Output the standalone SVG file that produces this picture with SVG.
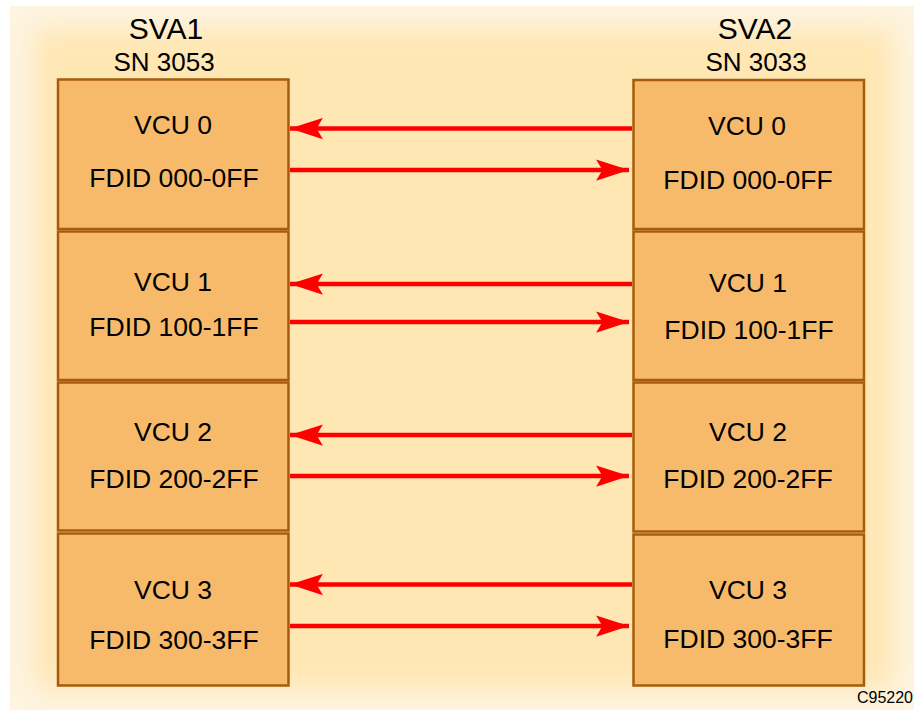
<svg xmlns="http://www.w3.org/2000/svg" width="914" height="710" viewBox="0 0 914 710">
<defs>
<style>
.box{fill:#F7BA6B;stroke:#A65C0C;stroke-width:2.5}
.t{font-family:"Liberation Sans",Arial,sans-serif;font-size:26.5px;fill:#000;text-anchor:middle}
.h{font-family:"Liberation Sans",Arial,sans-serif;font-size:30px;fill:#000;text-anchor:middle}
.s{font-family:"Liberation Sans",Arial,sans-serif;font-size:26px;fill:#000;text-anchor:middle}
.c{stroke:#FF0000;stroke-width:4.5;fill:none}
</style>
<filter id="blur" x="-10%" y="-10%" width="120%" height="120%"><feGaussianBlur stdDeviation="14"/></filter>
<clipPath id="bgclip"><rect x="10" y="6" width="904" height="704"/></clipPath>
<marker id="ah" markerUnits="userSpaceOnUse" markerWidth="34" markerHeight="22" viewBox="0 0 32 20" refX="31" refY="10" orient="auto">
<path d="M31,10 L0,0 L6,10 L0,20 Z" fill="#FF0000"/>
</marker>
</defs>
<rect width="914" height="710" fill="#FFFFFF"/>
<g clip-path="url(#bgclip)">
<rect x="10" y="6" width="904" height="704" fill="#FDF4E2"/>
<rect x="34" y="28" width="860" height="662" fill="#FFE7B3" filter="url(#blur)"/>
</g>
<g id="titles">
<text class="h" x="166" y="39">SVA1</text>
<text class="s" x="164" y="71">SN 3053</text>
<text class="h" x="755" y="39">SVA2</text>
<text class="s" x="756" y="71">SN 3033</text>
</g>
<g id="sva1-vcu0"><rect class="box" x="58" y="79.5" width="230.5" height="149.5"/><text class="t" x="173" y="134">VCU 0</text><text class="t" x="174" y="187">FDID 000-0FF</text></g>
<g id="sva1-vcu1"><rect class="box" x="58" y="231.5" width="230.5" height="148.5"/><text class="t" x="173" y="291">VCU 1</text><text class="t" x="174" y="336">FDID 100-1FF</text></g>
<g id="sva1-vcu2"><rect class="box" x="58" y="382.5" width="230.5" height="148"/><text class="t" x="173" y="441">VCU 2</text><text class="t" x="174" y="488">FDID 200-2FF</text></g>
<g id="sva1-vcu3"><rect class="box" x="58" y="533.5" width="230.5" height="152"/><text class="t" x="173" y="599">VCU 3</text><text class="t" x="174" y="649">FDID 300-3FF</text></g>
<g id="sva2-vcu0"><rect class="box" x="633.5" y="80" width="230.5" height="149"/><text class="t" x="747" y="135">VCU 0</text><text class="t" x="748" y="189">FDID 000-0FF</text></g>
<g id="sva2-vcu1"><rect class="box" x="633.5" y="231.5" width="230.5" height="148.5"/><text class="t" x="748" y="292">VCU 1</text><text class="t" x="749" y="339">FDID 100-1FF</text></g>
<g id="sva2-vcu2"><rect class="box" x="633.5" y="382.5" width="230.5" height="149"/><text class="t" x="748" y="441">VCU 2</text><text class="t" x="748" y="488">FDID 200-2FF</text></g>
<g id="sva2-vcu3"><rect class="box" x="633.5" y="534.5" width="230.5" height="151"/><text class="t" x="748" y="599">VCU 3</text><text class="t" x="748" y="648">FDID 300-3FF</text></g>
<g id="connectors">
<line class="c" x1="632" y1="128.5" x2="290" y2="128.5" marker-end="url(#ah)"/>
<line class="c" x1="290" y1="170" x2="629" y2="170" marker-end="url(#ah)"/>
<line class="c" x1="632" y1="284" x2="290" y2="284" marker-end="url(#ah)"/>
<line class="c" x1="290" y1="322" x2="629" y2="322" marker-end="url(#ah)"/>
<line class="c" x1="632" y1="435" x2="290" y2="435" marker-end="url(#ah)"/>
<line class="c" x1="290" y1="476" x2="629" y2="476" marker-end="url(#ah)"/>
<line class="c" x1="632" y1="584.5" x2="290" y2="584.5" marker-end="url(#ah)"/>
<line class="c" x1="290" y1="626" x2="629" y2="626" marker-end="url(#ah)"/>
</g>
<text x="913" y="703" style="font-family:'Liberation Sans',Arial,sans-serif;font-size:16px;text-anchor:end;fill:#000">C95220</text>
</svg>
